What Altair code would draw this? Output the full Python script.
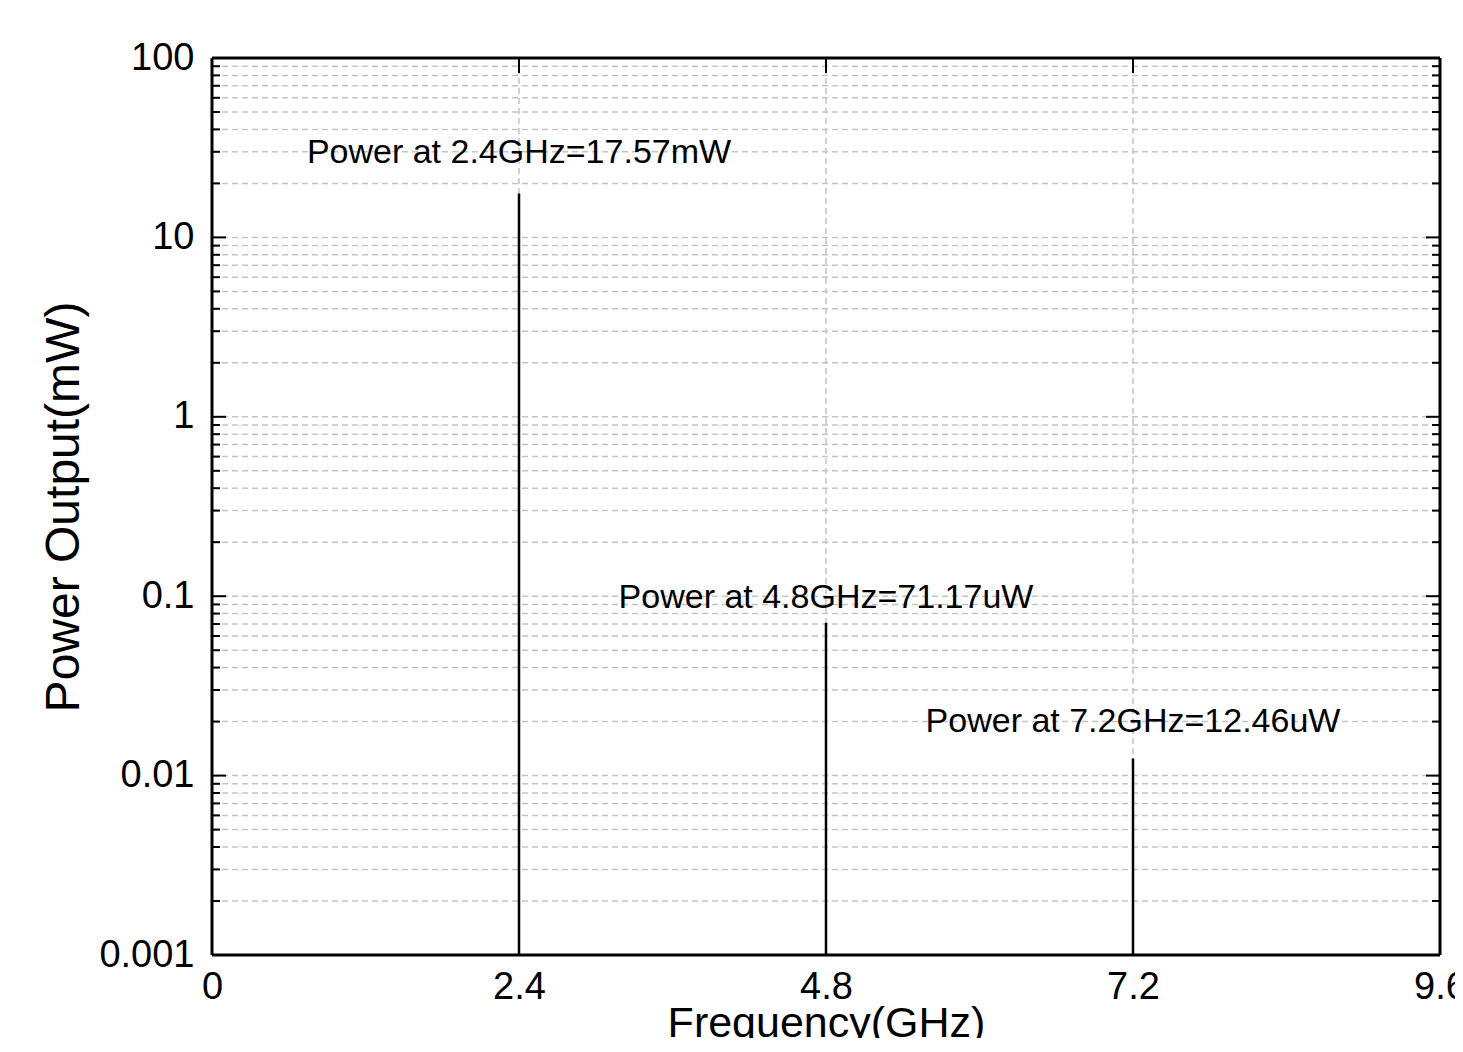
import altair as alt
import pandas as pd

# ---- data ----
freqs = [2.4, 4.8, 7.2]                       # GHz
powers = [17.57, 0.07117, 0.01246]            # mW
labels = ["Power at 2.4GHz=17.57mW",
          "Power at 4.8GHz=71.17uW",
          "Power at 7.2GHz=12.46uW"]
label_y = [29.5, 0.098, 0.0199]               # mW, where each note sits
x_ticks = [0, 2.4, 4.8, 7.2, 9.6]
y_ticks = [0.001, 0.01, 0.1, 1, 10, 100]
y_minor = [m * 10 ** d for d in range(-3, 2) for m in range(2, 10)]

W, H = 1228, 897
FONT = "Liberation Sans"

xs = alt.Scale(domain=[0, 9.6], nice=False, zero=False)
ys = alt.Scale(type="log", domain=[0.001, 100], nice=False)

stems = pd.DataFrame({"f": freqs, "p": powers, "base": [0.001] * len(freqs)})
notes = pd.DataFrame({"f": freqs, "y": label_y, "t": labels})
hgrid = pd.DataFrame({"v": y_minor + y_ticks[1:-1]})
vgrid = pd.DataFrame({"f": x_ticks[1:-1]})
majors = pd.DataFrame({"v": y_ticks[1:-1]})
minors = pd.DataFrame({"v": y_minor})

dash = [6, 4]
grid_col = "#c4c4c4"

base_axes = alt.Chart(pd.DataFrame({"f": [0, 9.6], "p": [0.001, 100]})).mark_point(opacity=0).encode(
    x=alt.X("f:Q", scale=xs,
            axis=alt.Axis(values=x_ticks, format="~g", title="Frequency(GHz)",
                          tickSize=0, domain=False, grid=False, labelFlush=False,
                          labelPadding=13, labelFontSize=38,
                          titleFontSize=43, titleY=81, titleBaseline="alphabetic",
                          labelFont=FONT, titleFont=FONT,
                          titleFontWeight="normal", labelColor="black", titleColor="black")),
    y=alt.Y("p:Q", scale=ys,
            axis=alt.Axis(values=y_ticks, format="~g", title="Power Output(mW)",
                          tickSize=0, domain=False, grid=False, labelFlush=False,
                          labelPadding=18, titlePadding=10, labelFontSize=38,
                          titleFontSize=48, labelFont=FONT, titleFont=FONT,
                          titleFontWeight="normal", labelColor="black", titleColor="black")),
)

hg = alt.Chart(hgrid).mark_rule(color=grid_col, strokeDash=dash, strokeWidth=1.5).encode(
    y=alt.Y("v:Q", scale=ys), x=alt.value(0), x2=alt.value(W))
vg = alt.Chart(vgrid).mark_rule(color=grid_col, strokeDash=dash, strokeWidth=1.5).encode(
    x=alt.X("f:Q", scale=xs), y=alt.value(0), y2=alt.value(H))

tick_style = dict(color="black", strokeWidth=2)
lt_major = alt.Chart(majors).mark_rule(**tick_style).encode(
    y=alt.Y("v:Q", scale=ys), x=alt.value(0), x2=alt.value(14))
rt_major = alt.Chart(majors).mark_rule(**tick_style).encode(
    y=alt.Y("v:Q", scale=ys), x=alt.value(W - 14), x2=alt.value(W))
lt_minor = alt.Chart(minors).mark_rule(**tick_style).encode(
    y=alt.Y("v:Q", scale=ys), x=alt.value(0), x2=alt.value(8))
rt_minor = alt.Chart(minors).mark_rule(**tick_style).encode(
    y=alt.Y("v:Q", scale=ys), x=alt.value(W - 8), x2=alt.value(W))
top_t = alt.Chart(vgrid).mark_rule(**tick_style).encode(
    x=alt.X("f:Q", scale=xs), y=alt.value(0), y2=alt.value(15))
bot_t = alt.Chart(vgrid).mark_rule(**tick_style).encode(
    x=alt.X("f:Q", scale=xs), y=alt.value(H - 15), y2=alt.value(H))

stem = alt.Chart(stems).mark_rule(color="black", strokeWidth=2.5).encode(
    x=alt.X("f:Q", scale=xs), y=alt.Y("p:Q", scale=ys), y2="base:Q")

txt = alt.Chart(notes).mark_text(font=FONT, fontSize=34, color="black",
                                 align="center", baseline="middle").encode(
    x=alt.X("f:Q", scale=xs), y=alt.Y("y:Q", scale=ys), text="t:N")

# plot frame
frame_style = dict(color="black", strokeWidth=3)
fr_top = alt.Chart().mark_rule(**frame_style).encode(x=alt.value(0), x2=alt.value(W), y=alt.value(0))
fr_bot = alt.Chart().mark_rule(**frame_style).encode(x=alt.value(0), x2=alt.value(W), y=alt.value(H))
fr_lft = alt.Chart().mark_rule(**frame_style).encode(y=alt.value(0), y2=alt.value(H), x=alt.value(0))
fr_rgt = alt.Chart().mark_rule(**frame_style).encode(y=alt.value(0), y2=alt.value(H), x=alt.value(W))

chart = alt.layer(base_axes, hg, vg, lt_minor, rt_minor, lt_major, rt_major,
                  top_t, bot_t, stem, txt, fr_top, fr_bot, fr_lft, fr_rgt).properties(
    width=W, height=H,
    background="white",
    autosize=alt.AutoSizeParams(type="none"),
    padding={"left": 204, "top": 50, "right": 15, "bottom": 83},
).configure_view(stroke=None)

chart.save("out.html", embed_options={"renderer": "svg", "actions": False})
